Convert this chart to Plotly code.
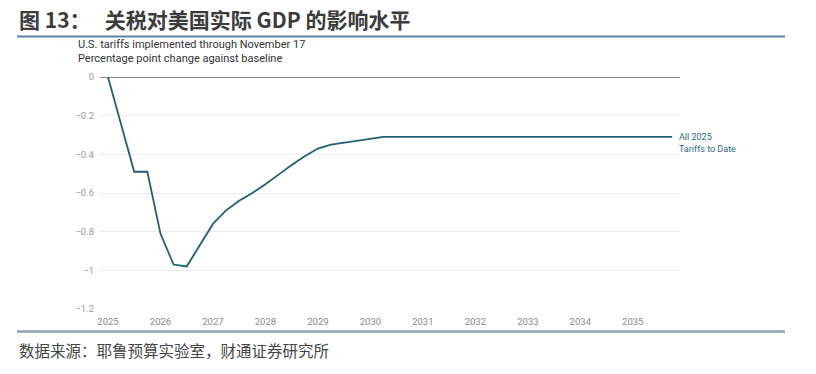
import plotly.graph_objects as go

quarters = [2025.00, 2025.25, 2025.50, 2025.75, 2026.00, 2026.25, 2026.50, 2026.75,
            2027.00, 2027.25, 2027.50, 2027.75, 2028.00, 2028.25, 2028.50, 2028.75,
            2029.00, 2029.25, 2029.50, 2029.75, 2030.00, 2030.25, 2030.50, 2030.75,
            2031.00, 2031.25, 2031.50, 2031.75, 2032.00, 2032.25, 2032.50, 2032.75,
            2033.00, 2033.25, 2033.50, 2033.75, 2034.00, 2034.25, 2034.50, 2034.75,
            2035.00, 2035.25, 2035.50, 2035.75]
gdp_change = [0.0, -0.245, -0.49, -0.49, -0.81, -0.97, -0.98, -0.87,
              -0.76, -0.69, -0.64, -0.60, -0.555, -0.505, -0.455, -0.41,
              -0.37, -0.35, -0.34, -0.33, -0.32, -0.31, -0.31, -0.31,
              -0.31, -0.31, -0.31, -0.31, -0.31, -0.31, -0.31, -0.31,
              -0.31, -0.31, -0.31, -0.31, -0.31, -0.31, -0.31, -0.31,
              -0.31, -0.31, -0.31, -0.31]
year_ticks = list(range(2025, 2036))
y_ticks = [0, -0.2, -0.4, -0.6, -0.8, -1, -1.2]
y_tick_labels = ["0", "−0.2", "−0.4", "−0.6", "−0.8", "−1", "−1.2"]
series_name = "All 2025<br>Tariffs to Date"

line_color = "#215f74"
OFF = 8  # page body margin
W, H = 816 - OFF, 374 - OFF
# plot area in reference page pixels
PX0, PX1, PY0, PY1 = 100, 680, 77, 309
L, R, T, B = PX0 - OFF, 816 - PX1, PY0 - OFF, 374 - PY1


def px_x(p):
    return (p - PX0) / (PX1 - PX0)


def px_y(p):
    return (PY1 - p) / (PY1 - PY0)


fig = go.Figure()
fig.add_trace(go.Scatter(x=quarters, y=gdp_change, mode="lines",
                         line=dict(color=line_color, width=1.8),
                         showlegend=False, hoverinfo="x+y"))

fig.add_annotation(x=quarters[-1], y=gdp_change[-1], xref="x", yref="y",
                   text=series_name, showarrow=False, xanchor="left", yanchor="middle",
                   xshift=5, yshift=-6, align="left",
                   font=dict(family="Roboto, Arial", size=9, color="#2a6a80"))

fig.update_layout(
    width=W, height=H,
    margin=dict(l=L, r=R, t=T, b=B),
    paper_bgcolor="white", plot_bgcolor="white",
    xaxis=dict(range=[2024.848, 2035.9], tickvals=year_ticks,
               ticktext=[str(y) for y in year_ticks],
               showgrid=False, zeroline=False, showline=False, ticks="",
               ticklabelstandoff=5,
               tickfont=dict(family="Roboto, Arial", size=9.5, color="#8a8a8a")),
    yaxis=dict(range=[-1.2, 0.0], tickvals=y_ticks, ticktext=y_tick_labels,
               showgrid=True, gridcolor="#ececec", gridwidth=1,
               zeroline=False, showline=False, ticks="",
               ticklabelstandoff=5,
               tickfont=dict(family="Roboto, Arial", size=9.5, color="#9a9a9a")),
    font=dict(family="Roboto, Arial"),
)

# zero baseline (darker)
fig.add_shape(type="line", xref="paper", yref="y", x0=0, x1=1, y0=0, y1=0,
              line=dict(color="#888888", width=2), layer="below")

# title
fig.add_annotation(xref="paper", yref="paper", x=px_x(17), y=px_y(19),
                   xanchor="left", yanchor="middle", showarrow=False,
                   text="<b>图 13：   关税对美国实际 GDP 的影响水平</b>",
                   font=dict(family="Noto Sans CJK SC", size=21, color="#3c3c3c"))
# subtitles
fig.add_annotation(xref="paper", yref="paper", x=px_x(76), y=px_y(45),
                   xanchor="left", yanchor="middle", showarrow=False,
                   text="U.S. tariffs implemented through November 17",
                   font=dict(family="Roboto, Arial", size=11, color="#333333"))
fig.add_annotation(xref="paper", yref="paper", x=px_x(76), y=px_y(58),
                   xanchor="left", yanchor="middle", showarrow=False,
                   text="Percentage point change against baseline",
                   font=dict(family="Roboto, Arial", size=11, color="#333333"))
# source
fig.add_annotation(xref="paper", yref="paper", x=px_x(17), y=px_y(350),
                   xanchor="left", yanchor="middle", showarrow=False,
                   text="数据来源：耶鲁预算实验室，财通证券研究所",
                   font=dict(family="Noto Sans CJK SC", size=15.5, color="#444444"))

# separator lines
fig.add_shape(type="line", xref="paper", yref="paper", x0=px_x(17), x1=px_x(785),
              y0=px_y(36.5), y1=px_y(36.5), line=dict(color="#5b82a8", width=2))
fig.add_shape(type="line", xref="paper", yref="paper", x0=px_x(17), x1=px_x(785),
              y0=px_y(331.5), y1=px_y(331.5), line=dict(color="#8aa5b8", width=2.5))

fig.write_html("out.html")
